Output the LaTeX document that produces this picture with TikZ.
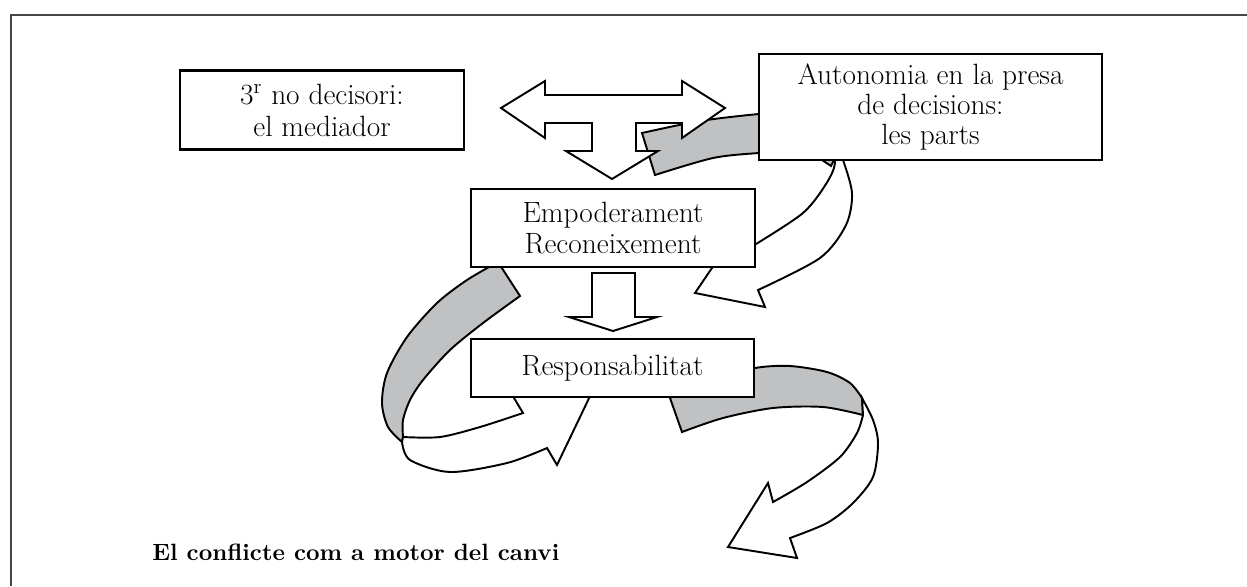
\documentclass[tikz,border=0pt]{standalone}
\usepackage{fontspec}
\definecolor{bandgray}{RGB}{192,193,195}
\definecolor{framegray}{RGB}{70,70,70}
\newcommand{\bodysize}{\fontsize{16.7}{17.2}\selectfont}
\newcommand{\capwd}{8.14cm}
\newcommand{\bxlw}{1.3pt}
\newcommand{\arlw}{1.1pt}

\tikzset{
  box/.style={draw, line width=\bxlw, fill=white, align=center, inner sep=0pt, font=\bodysize},
  band/.style={draw, line width=\arlw, fill=bandgray, line join=miter},
  ribbon/.style={draw, line width=\arlw, fill=white, line join=miter},
}

\begin{document}
\begin{tikzpicture}[x=0.02cm, y=-0.02cm]

    \useasboundingbox (0,0) rectangle (1247,586);

    % frame
    \draw [framegray, line width=0.9pt] (1247,15) -- (11,15) -- (11,586);

    % curved arrow from the parts
    \path [save path=\bandA]
      (642,133) -- (655,175)
      -- plot [smooth] coordinates {(655,175) (713,158) (759,153) (790,152)}
      -- (819,158) -- (831,166) -- (838,152) -- (790,113)
      -- plot [smooth] coordinates {(790,113) (759,114) (700,121) (642,133)}
      -- cycle;

    \path [save path=\ribbonA]
      (838,140)
      -- plot [smooth] coordinates {(843,160) (852,193) (846,225) (820,258) (758,290)}
      -- (765,307) -- (695,293) -- (716,262) -- (740,254)
      -- plot [smooth] coordinates {(756,244) (803,213) (826,184) (835,163) (830,140)}
      -- cycle;

    % curved arrow round the left
    \path [save path=\bandB]
      (498,262) -- (520,296)
      -- plot [smooth] coordinates {(520,296) (483,323) (450,350) (423,380) (410,400) (403,420) (403,437)}
      -- (402,442)
      -- plot [smooth] coordinates {(402,442) (388,427) (382,403) (387,373) (407,337) (437,303) (467,280) (498,262)}
      -- cycle;

    \path [save path=\ribbonB]
      (403,437)
      -- plot [smooth] coordinates {(403,437) (440,437) (480,427) (523,413)}
      -- (505,383) -- (592,392) -- (557,465) -- (547,448)
      -- plot [smooth] coordinates {(547,448) (507,463) (450,472) (410,460) (402,442)}
      -- cycle;

    % curved arrow to the bottom
    \path [save path=\bandC]
      (670,398) -- (682,432)
      -- plot [smooth] coordinates {(682,432) (723,418) (773,408) (823,407) (863,415)}
      -- (862,398)
      -- plot [smooth] coordinates {(862,398) (850,383) (827,372) (790,366) (755,368) (710,380) (670,398)}
      -- cycle;

    \path [save path=\ribbonC]
      (862,398)
      -- plot [smooth] coordinates {(862,398) (873,420) (878,443) (873,477) (853,503) (827,523) (790,538)}
      -- (797,558) -- (728,547) -- (768,483)
      -- plot [smooth] coordinates {(773,502) (807,482) (840,457) (857,433) (863,415)}
      -- cycle;

    \draw [ribbon, use path=\ribbonA];
    \draw [band, use path=\bandA];
    \draw [band, use path=\bandB];
    \draw [ribbon, use path=\ribbonB];
    \draw [band, use path=\bandC];
    \draw [ribbon, use path=\ribbonC];

    % block arrows
    \filldraw [ribbon]
      (501,108) -- (545,81) -- (545,95) -- (682,95) -- (682,81) -- (725,108)
      -- (682,138) -- (682,123) -- (636,123) -- (636,151) -- (658,151)
      -- (612,179) -- (566,151) -- (592,151) -- (592,123) -- (545,123)
      -- (545,138) -- cycle;

    \filldraw [ribbon]
      (592,273) -- (635,273) -- (635,317) -- (657,317) -- (613,331)
      -- (569,317) -- (592,317) -- cycle;

    % boxes
    \node [box, minimum width=5.68cm, minimum height=1.58cm] (mediator) at (322,110)
      {3\textsuperscript{r} no decisori:\\[1pt] el mediador};
    \node [box, minimum width=6.86cm, minimum height=2.12cm] (parts) at (930.5,107)
      {Autonomia en la presa\\ de decisions:\\ les parts};
    \node [box, minimum width=5.68cm, minimum height=1.56cm] (empower) at (613,228)
      {Empoderament\\ Reconeixement};
    \node [box, minimum width=5.66cm, minimum height=1.16cm] (resp) at (612.5,368)
      {Responsabilitat};

    \node [anchor=base west, inner sep=0pt] (caption) at (152,560)
      {\resizebox{\capwd}{!}{\bfseries El conflicte com a motor del canvi}};

\end{tikzpicture}
\end{document}
